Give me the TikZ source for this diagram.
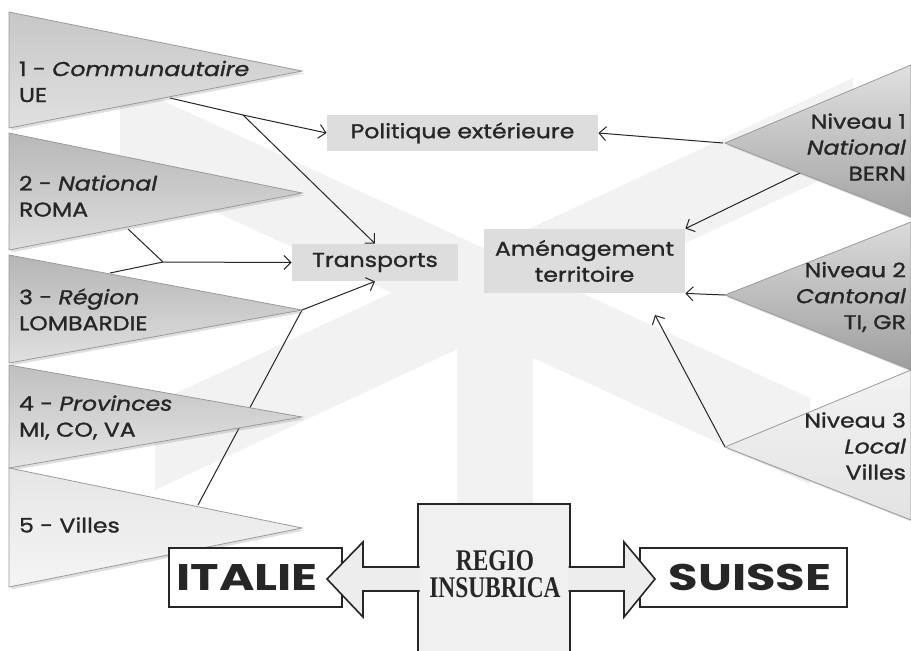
\documentclass[tikz,border=0pt]{standalone}
\usepackage{fontspec}
\setmainfont{Poppins}[FakeStretch=1.18,FakeBold=1.2]
\newfontfamily\countryfont{Poppins}[FakeStretch=1.3]
\newfontfamily\regiofont{Liberation Serif}
\usepackage{graphicx}
\usepackage{tikz}
\usetikzlibrary{arrows.meta,positioning,calc,shadows}
\definecolor{Ink}{HTML}{262626}
\definecolor{Band}{HTML}{F2F2F2}
\definecolor{Theme}{HTML}{DDDDDD}
\definecolor{Edge}{HTML}{9A9A9A}

\begin{document}
\begin{tikzpicture}[x=0.5pt,y=-0.5pt,every node/.style={font=\fontsize{10}{13}\selectfont,text=Ink},
 theme/.style={fill=Theme,inner sep=0pt,align=center},
 link/.style={draw=Ink,line width=0.5pt,-{Straight Barb[length=3.5pt,width=7pt]}},
 level/.style={draw=Edge,line width=0.4pt,drop shadow={shadow xshift=1.2pt,shadow yshift=-1.2pt,opacity=0.25}},
 country/.style={draw=Ink,line width=1pt,fill=white,minimum height=29.5pt,inner sep=0pt,font=\countryfont\fontsize{18.5}{18.5}\selectfont\bfseries}]
\useasboundingbox (0,0) rectangle (911,650);
\fill[white] (0,0) rectangle (911,650);
% background cross
\fill[Band] (120,81) -- (810,398) -- (810,485) -- (120,168) -- cycle;
\fill[Band] (853,78) -- (853,165) -- (155,490) -- (155,403) -- cycle;
\fill[Band] (457,330) rectangle (533,650);

% themes
\node[theme,minimum width=135.5pt,minimum height=18pt] (polExt) at (462.5,133) {Politique extérieure};
\node[theme,minimum width=83pt,minimum height=18.5pt] (transp) at (375,262.5) {Transports};
\node[theme,minimum width=100.5pt,minimum height=32pt] (amen) at (584.5,261) {Aménagement\\territoire};

% connectors
\coordinate (ueFoot) at (170,98);
\coordinate (ueFork) at (243,115);
\coordinate (romaFoot) at (128,229);
\coordinate (regFoot) at (110,273);
\coordinate (romaFork) at (163,262);
\coordinate (regTip) at (302,310);
\coordinate (vilFoot) at (198,505);
\coordinate (bernTip) at (723,143);
\coordinate (bernFoot) at (802,172);
\coordinate (cantTip) at (725,295);
\coordinate (locTip) at (725,447);
\coordinate (amenFoot) at (655,315);
\draw[link] (ueFoot) -- (ueFork) -- (polExt.west);
\draw[link] (ueFork) -- (transp.north);
\draw[Ink,line width=0.5pt] (romaFoot) -- (romaFork);
\draw[link] (regFoot) -- (romaFork) -- (transp.west);
\draw[link] (vilFoot) -- (regTip) -- (transp.south);
\draw[link] (bernTip) -- (polExt.east);
\draw[link] (bernFoot) -- (amen.north east);
\draw[link] (cantTip) -- (amen.south east);
\draw[link] (locTip) -- (amenFoot);

% levels
\foreach \t/\p/\b/\ct/\cb in {12/71/128/22/12,133/193/250/28/13,255/310/363/29/12,365/417/468/25/10,468/528/587/10/4}
 \shade[level,top color=black!\ct,bottom color=black!\cb] (9,\t) -- (302,\p) -- (9,\b) -- cycle;
\foreach \t/\p/\b/\ct/\cb in {65/143/217/12/36,222/295/370/14/38,370/447/520/5/11}
 \shade[level,top color=black!\ct,bottom color=black!\cb] (911,\t) -- (725,\p) -- (911,\b) -- cycle;

\node[anchor=west,align=left] (euLbl) at (12,81.5) {1 - \textit{Communautaire}\\UE};
\node[anchor=west,align=left] (romaLbl) at (12,196) {2 - \textit{National}\\ROMA};
\node[anchor=west,align=left] (lomLbl) at (12,309.5) {3 - \textit{Région}\\LOMBARDIE};
\node[anchor=west,align=left] (provLbl) at (12,417.5) {4 - \textit{Provinces}\\MI, CO, VA};
\node[anchor=west] (vilLbl) at (12,525) {5 - Villes};
\node[anchor=east,align=right] (bernLbl) at (913,147) {Niveau 1\\\textit{National}\\BERN};
\node[anchor=east,align=right] (cantLbl) at (913,297) {Niveau 2\\\textit{Cantonal}\\TI, GR};
\node[anchor=east,align=right] (locLbl) at (913,446) {Niveau 3\\\textit{Local}\\Villes};

% regio
\filldraw[fill=black!6,draw=Ink,line width=0.8pt] (418,660) -- (418,504) -- (570,504) -- (570,660);
\node[country,minimum width=86.5pt] (italie) at (255.5,577.5) {\hspace*{-8.5pt}ITALIE};
\node[country,minimum width=103.5pt] (suisse) at (743.5,577.5) {\hspace*{6.5pt}SUISSE};
\filldraw[fill=black!7,draw=Ink,line width=0.8pt] (419.5,567) -- (363,567) -- (363,542) -- (327,579) -- (363,617) -- (363,591) -- (419.5,591);
\filldraw[fill=black!7,draw=Ink,line width=0.8pt] (568.5,567) -- (624,567) -- (624,542) -- (655,579) -- (624,617) -- (624,591) -- (568.5,591);
\node[font=\regiofont\bfseries\fontsize{15}{13.5}\selectfont,align=center] (regio) at (495,574) {\scalebox{0.78}[1]{REGIO}\\\scalebox{0.78}[1]{INSUBRICA}};
\end{tikzpicture}
\end{document}
